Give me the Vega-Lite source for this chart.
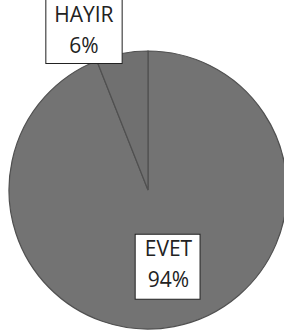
{
  "$schema": "https://vega.github.io/schema/vega-lite/v6.json",
  "width": 296,
  "height": 380,
  "padding": 0,
  "autosize": {"type": "none"},
  "background": "#ffffff",
  "config": {"view": {"stroke": null}},
  "data": {"values": [
    {"cat": "EVET", "value": 0.94},
    {"cat": "HAYIR", "value": 0.06}
  ]},
  "encoding": {
    "theta": {"field": "value", "type": "quantitative", "stack": true},
    "order": {"field": "cat", "type": "ordinal", "sort": "ascending"},
    "detail": {"field": "cat", "type": "nominal"}
  },
  "layer": [
    {
      "mark": {"type": "arc", "radius": 139, "stroke": "#505050", "strokeWidth": 1.2},
      "encoding": {
        "color": {"field": "cat", "type": "nominal", "scale": {"range": ["#737373", "#707070"]}, "legend": null}
      }
    },
    {
      "mark": {"type": "text", "radius": 150, "dx": -36, "dy": -22, "font": "DejaVu Sans", "fontSize": 100, "align": "center", "baseline": "middle", "fill": "#ffffff", "stroke": "#222222", "strokeWidth": 1},
      "encoding": {"text": {"condition": {"test": "datum.cat === 'HAYIR'", "value": "■"}, "value": ""}}
    },
    {
      "mark": {"type": "text", "radius": 77, "dx": 5, "dy": -3, "font": "DejaVu Sans", "fontSize": 85, "align": "center", "baseline": "middle", "fill": "#ffffff", "stroke": "#222222", "strokeWidth": 1},
      "encoding": {"text": {"condition": {"test": "datum.cat === 'EVET'", "value": "■"}, "value": ""}}
    },
    {
      "mark": {"type": "text", "radius": 150, "dx": -36, "dy": -27, "font": "Open Sans", "fontSize": 21, "align": "center", "baseline": "middle", "fill": "#222222"},
      "encoding": {"text": {"condition": {"test": "datum.cat === 'HAYIR'", "field": "cat"}, "value": ""}}
    },
    {
      "mark": {"type": "text", "radius": 150, "dx": -36, "dy": 4, "font": "Open Sans", "fontSize": 21, "align": "center", "baseline": "middle", "fill": "#222222"},
      "encoding": {"text": {"condition": {"test": "datum.cat === 'HAYIR'", "field": "value", "format": ".0%"}, "value": ""}}
    },
    {
      "mark": {"type": "text", "radius": 77, "dx": 6, "dy": -16, "font": "Open Sans", "fontSize": 21, "align": "center", "baseline": "middle", "fill": "#222222"},
      "encoding": {"text": {"condition": {"test": "datum.cat === 'EVET'", "field": "cat"}, "value": ""}}
    },
    {
      "mark": {"type": "text", "radius": 77, "dx": 6, "dy": 15, "font": "Open Sans", "fontSize": 21, "align": "center", "baseline": "middle", "fill": "#222222"},
      "encoding": {"text": {"condition": {"test": "datum.cat === 'EVET'", "field": "value", "format": ".0%"}, "value": ""}}
    }
  ]
}
